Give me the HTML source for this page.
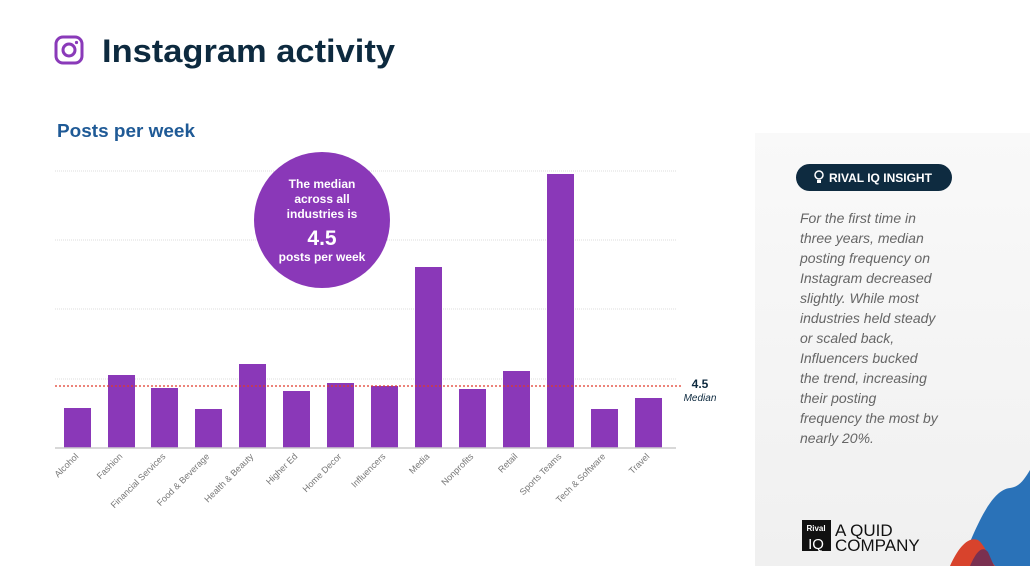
<!DOCTYPE html>
<html><head><meta charset="utf-8"><style>
body{margin:0;width:1030px;height:566px;overflow:hidden;background:#fff;font-family:"Liberation Sans",sans-serif;position:relative}
.abs{position:absolute}
</style></head><body>
<div class="abs" style="left:755px;top:133px;width:275px;height:433px;background:linear-gradient(#f9f9f9,#f0f0f0)"></div>
<svg class="abs" style="left:0;top:0" width="1030" height="566">
<rect x="56" y="37" width="26" height="26" rx="7" fill="none" stroke="#8a3ab9" stroke-width="3"/>
<circle cx="69" cy="50" r="6" fill="none" stroke="#8a3ab9" stroke-width="3"/>
<circle cx="76.5" cy="42.5" r="1.6" fill="#8a3ab9"/>
<text x="102" y="62" font-size="32" font-weight="bold" fill="#0d2a3f" textLength="293" lengthAdjust="spacingAndGlyphs">Instagram activity</text>
<text x="57" y="137" font-size="18" font-weight="bold" fill="#1f5a96" textLength="138" lengthAdjust="spacingAndGlyphs">Posts per week</text>
<g stroke="#ddd" stroke-dasharray="1,1">
<line x1="55" x2="676" y1="171" y2="171"/><line x1="55" x2="676" y1="240" y2="240"/>
<line x1="55" x2="676" y1="309" y2="309"/><line x1="55" x2="676" y1="379" y2="379"/>
</g>
<g fill="#8a38b8">
<rect x="64" y="408" width="27" height="40"/><rect x="108" y="375" width="27" height="73"/>
<rect x="151" y="388" width="27" height="60"/><rect x="195" y="409" width="27" height="39"/>
<rect x="239" y="364" width="27" height="84"/><rect x="283" y="391" width="27" height="57"/>
<rect x="327" y="383" width="27" height="65"/><rect x="371" y="386" width="27" height="62"/>
<rect x="415" y="267" width="27" height="181"/><rect x="459" y="389" width="27" height="59"/>
<rect x="503" y="371" width="27" height="77"/><rect x="547" y="174" width="27" height="274"/>
<rect x="591" y="409" width="27" height="39"/><rect x="635" y="398" width="27" height="50"/>
</g>
<line x1="55" x2="676" y1="448" y2="448" stroke="#ccc" stroke-width="1.5"/>
<line x1="55" x2="682" y1="386" y2="386" stroke="#e03a2a" stroke-width="1.2" stroke-dasharray="2,2"/>
<text x="700" y="388" font-size="12" font-weight="bold" fill="#0d2a3f" text-anchor="middle">4.5</text>
<text x="700" y="401" font-size="10" font-style="italic" fill="#0d2a3f" text-anchor="middle">Median</text>
<circle cx="322" cy="220" r="68" fill="#8a38b8"/>
<g fill="#fff" font-weight="bold" text-anchor="middle">
<text x="322" y="188" font-size="12">The median</text>
<text x="322" y="203" font-size="12">across all</text>
<text x="322" y="218" font-size="12">industries is</text>
<text x="322" y="245" font-size="21">4.5</text>
<text x="322" y="261" font-size="12">posts per week</text>
</g>
<g font-size="9" fill="#777" text-anchor="end">
<text transform="translate(79,457) rotate(-45)">Alcohol</text>
<text transform="translate(123,457) rotate(-45)">Fashion</text>
<text transform="translate(166,457) rotate(-45)">Financial Services</text>
<text transform="translate(210,457) rotate(-45)">Food &amp; Beverage</text>
<text transform="translate(254,457) rotate(-45)">Health &amp; Beauty</text>
<text transform="translate(298,457) rotate(-45)">Higher Ed</text>
<text transform="translate(342,457) rotate(-45)">Home Decor</text>
<text transform="translate(386,457) rotate(-45)">Influencers</text>
<text transform="translate(430,457) rotate(-45)">Media</text>
<text transform="translate(474,457) rotate(-45)">Nonprofits</text>
<text transform="translate(518,457) rotate(-45)">Retail</text>
<text transform="translate(562,457) rotate(-45)">Sports Teams</text>
<text transform="translate(606,457) rotate(-45)">Tech &amp; Software</text>
<text transform="translate(650,457) rotate(-45)">Travel</text>
</g>
<rect x="796" y="164" width="156" height="27" rx="13.5" fill="#0e2b40"/>
<text x="829" y="182" font-size="12" font-weight="bold" fill="#fff">RIVAL IQ INSIGHT</text>
<circle cx="819" cy="175" r="4" fill="none" stroke="#fff" stroke-width="1.5"/>
<rect x="817" y="180" width="4" height="3" fill="#fff"/>
<g font-size="14" font-style="italic" fill="#666">
<text x="800" y="223">For the first time in</text>
<text x="800" y="243">three years, median</text>
<text x="800" y="263">posting frequency on</text>
<text x="800" y="283">Instagram decreased</text>
<text x="800" y="303">slightly. While most</text>
<text x="800" y="323">industries held steady</text>
<text x="800" y="343">or scaled back,</text>
<text x="800" y="363">Influencers bucked</text>
<text x="800" y="383">the trend, increasing</text>
<text x="800" y="403">their posting</text>
<text x="800" y="423">frequency the most by</text>
<text x="800" y="443">nearly 20%.</text>
</g>
<rect x="802" y="520" width="29" height="31" fill="#111"/>
<text x="816" y="531" font-size="8" font-weight="bold" fill="#fff" text-anchor="middle">Rival</text>
<text x="816" y="549" font-size="15" fill="#fff" text-anchor="middle">IQ</text>
<text x="835" y="536" font-size="17" fill="#111">A QUID</text>
<text x="835" y="551" font-size="17" fill="#111">COMPANY</text>
<path d="M960 566 C975 530 990 490 1010 488 C1020 487 1025 478 1030 470 L1030 566 Z" fill="#2a72b8"/>
<path d="M950 566 C958 548 968 536 978 540 C985 545 990 560 995 566 Z" fill="#d8432c"/>
<path d="M970 566 C976 552 982 545 988 552 L994 566 Z" fill="#7a3050"/>
</svg>
</body></html>
